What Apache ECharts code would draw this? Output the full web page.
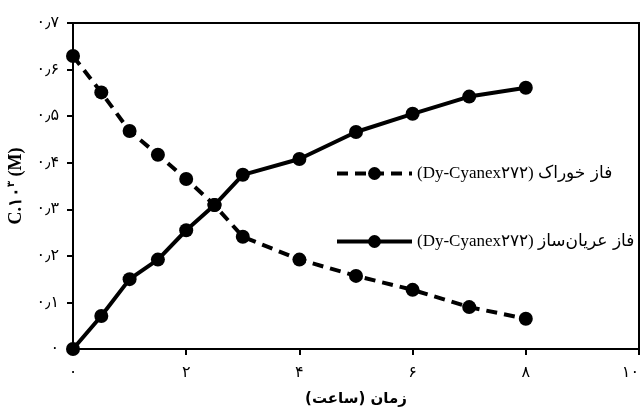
<!DOCTYPE html>
<html>
<head>
<meta charset="utf-8">
<script src="https://cdn.jsdelivr.net/npm/echarts@6/dist/echarts.min.js"></script>
<style>
html,body{margin:0;padding:0;background:#fff;}
#c{width:643px;height:414px;}
</style>
</head>
<body>
<div id="c"></div>
<script>
// ---- data ----
const timeHours = [0, 0.5, 1, 1.5, 2, 2.5, 3, 4, 5, 6, 7, 8];
const feedPhase = [0.629, 0.551, 0.468, 0.417, 0.365, 0.309, 0.241, 0.192, 0.157, 0.127, 0.090, 0.065];
const stripPhase = [0, 0.071, 0.150, 0.192, 0.255, 0.309, 0.374, 0.408, 0.466, 0.505, 0.542, 0.561];
const xTickLabels = ['۰', '۲', '۴', '۶', '۸', '۱۰'];
const yTickLabels = ['۰', '۰٫۱', '۰٫۲', '۰٫۳', '۰٫۴', '۰٫۵', '۰٫۶', '۰٫۷'];
const extractantLabel = '(Dy-Cyanex۲۷۲)';
const feedLabel = 'فاز خوراک';
const stripLabel = 'فاز عریان‌ساز';
const feedName = extractantLabel + ' ' + feedLabel;
const stripName = extractantLabel + ' ' + stripLabel;
const xTitle = 'زمان (ساعت)\u200F';

const chart = echarts.init(document.getElementById('c'));
const pair = (xs, ys) => xs.map((x, i) => [x, ys[i]]);

const legendText = {
  color: '#000',
  rich: {
    a: { fontFamily: 'Liberation Serif', fontSize: 17, color: '#000' },
    b: { fontFamily: 'DejaVu Sans', fontSize: 17, color: '#000' }
  }
};
const legendFormatter = name => {
  const fa = name.slice(extractantLabel.length + 1);
  return '{a|' + extractantLabel + ' }{b|' + fa + '}';
};

chart.setOption({
  animation: false,
  backgroundColor: '#fff',
  grid: { left: 73, right: 4, top: 23, bottom: 65, show: true, borderColor: '#000', borderWidth: 2,
          containLabel: false, outerBoundsMode: 'none' },
  legend: [
    {
      data: [feedName], left: 330, top: 160, itemWidth: 75, itemHeight: 16, itemGap: 6,
      lineStyle: { width: 4 }, formatter: legendFormatter,
      textStyle: legendText
    },
    {
      data: [stripName], left: 330, top: 228, itemWidth: 75, itemHeight: 16, itemGap: 6,
      lineStyle: { width: 4 }, formatter: legendFormatter,
      textStyle: legendText
    }
  ],
  xAxis: {
    type: 'value', min: 0, max: 10, interval: 2,
    name: xTitle, nameLocation: 'middle', nameGap: 43,
    nameTextStyle: { fontFamily: 'DejaVu Sans', fontWeight: 'bold', fontSize: 15, color: '#000' },
    axisLine: { lineStyle: { color: '#000', width: 2 } },
    axisTick: { show: true, inside: false, length: 6, lineStyle: { color: '#000', width: 2 } },
    axisLabel: {
      margin: 16, fontSize: 16, color: '#000', fontFamily: 'DejaVu Sans',
      alignMaxLabel: 'right',
      formatter: v => xTickLabels[Math.round(v / 2)]
    },
    splitLine: { show: false }
  },
  yAxis: {
    type: 'value', min: 0, max: 0.7, interval: 0.1,
    name: '{b|C.۱۰}{s|۳}{b| (M)}', nameLocation: 'middle', nameGap: 46,
    nameTextStyle: {
      color: '#000',
      rich: {
        b: { fontFamily: 'Liberation Serif', fontWeight: 'bold', fontSize: 18, color: '#000', lineHeight: 20 },
        s: { fontFamily: 'DejaVu Sans', fontWeight: 'bold', fontSize: 10, color: '#000', verticalAlign: 'top', padding: [0, 0, 7, 0] }
      }
    },
    axisLine: { show: true, lineStyle: { color: '#000', width: 2 } },
    axisTick: { show: true, inside: false, length: 6, lineStyle: { color: '#000', width: 2 } },
    axisLabel: {
      margin: 14, fontSize: 16, color: '#000', fontFamily: 'DejaVu Sans',
      formatter: v => yTickLabels[Math.round(v * 10)]
    },
    splitLine: { show: false }
  },
  series: [
    {
      name: feedName, type: 'line', data: pair(timeHours, feedPhase),
      symbol: 'circle', symbolSize: 14, showSymbol: true,
      lineStyle: { color: '#000', width: 4, type: [11, 7] },
      itemStyle: { color: '#000' },
      z: 3
    },
    {
      name: stripName, type: 'line', data: pair(timeHours, stripPhase),
      symbol: 'circle', symbolSize: 14, showSymbol: true,
      lineStyle: { color: '#000', width: 4, type: 'solid' },
      itemStyle: { color: '#000' },
      z: 3
    }
  ]
});
</script>
</body>
</html>
